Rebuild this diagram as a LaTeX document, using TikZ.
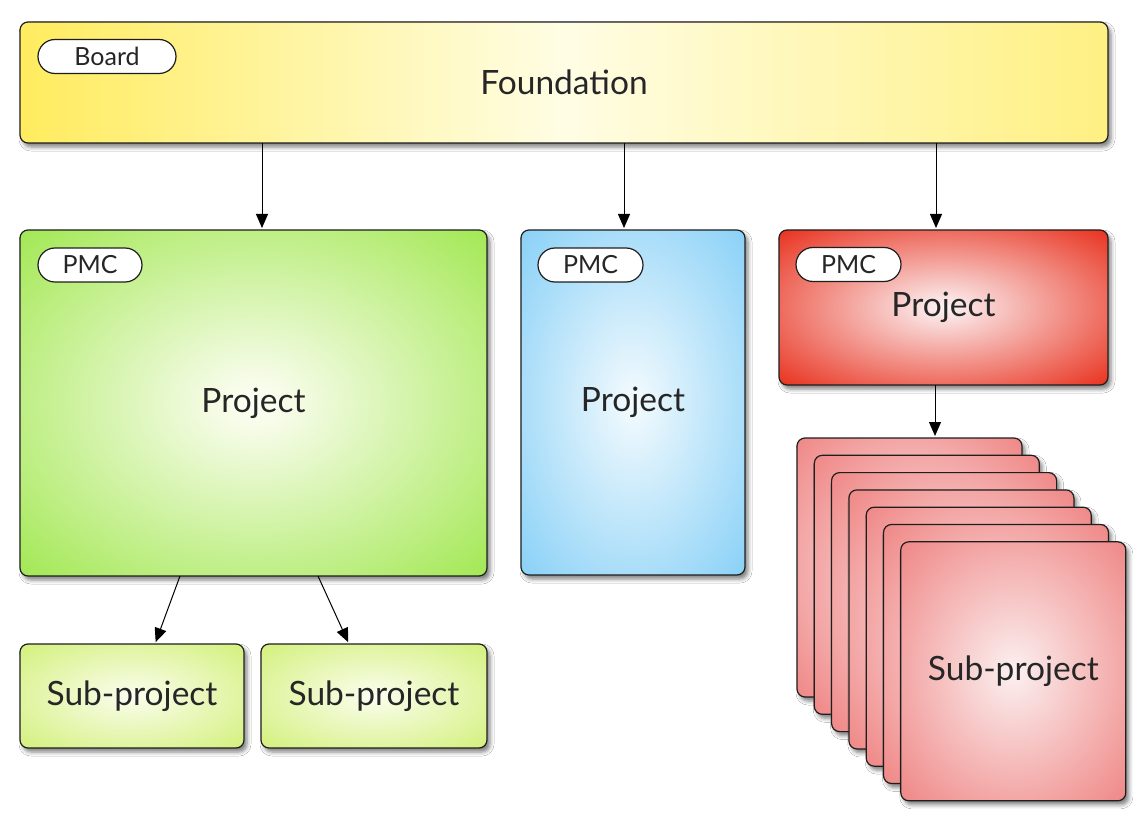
\documentclass[tikz,border=0pt]{standalone}
\usepackage{fontspec}
\setmainfont{Lato}
\usetikzlibrary{shapes.misc,shadows.blur,arrows.meta}
\definecolor{yel}{RGB}{255,236,95}
\definecolor{yelr}{RGB}{255,240,130}
\definecolor{yelmid}{RGB}{255,253,228}
\definecolor{linec}{RGB}{30,30,30}
\pgfdeclareradialshading{greenrad}{\pgfpointorigin}{color(0bp)=(rgb,255:red,252;green,255;blue,245); color(4bp)=(rgb,255:red,245;green,252;blue,230); color(46bp)=(rgb,255:red,135;green,225;blue,35); color(72bp)=(rgb,255:red,135;green,225;blue,35)}
\pgfdeclareradialshading{bluerad}{\pgfpointorigin}{color(0bp)=(rgb,255:red,245;green,252;blue,255); color(4bp)=(rgb,255:red,232;green,246;blue,253); color(46bp)=(rgb,255:red,105;green,196;blue,245); color(72bp)=(rgb,255:red,105;green,196;blue,245)}
\pgfdeclareradialshading{redrad}{\pgfpointorigin}{color(0bp)=(rgb,255:red,253;green,242;blue,242); color(3bp)=(rgb,255:red,250;green,228;blue,228); color(36bp)=(rgb,255:red,232;green,46;blue,26); color(72bp)=(rgb,255:red,232;green,46;blue,26)}
\pgfdeclareradialshading{pinkrad}{\pgfpointorigin}{color(0bp)=(rgb,255:red,253;green,240;blue,240); color(4bp)=(rgb,255:red,250;green,228;blue,228); color(44bp)=(rgb,255:red,236;green,110;blue,108); color(72bp)=(rgb,255:red,236;green,110;blue,108)}
\pgfdeclareradialshading{ltgreenrad}{\pgfpointorigin}{color(0bp)=(rgb,255:red,252;green,254;blue,242); color(4bp)=(rgb,255:red,246;green,252;blue,225); color(46bp)=(rgb,255:red,200;green,236;blue,90); color(72bp)=(rgb,255:red,200;green,236;blue,90)}
\begin{document}
\begin{tikzpicture}[x=1pt,y=-1pt,
  box/.style={draw=linec, line width=1.2pt, rounded corners=8pt, inner sep=0pt, outer sep=0pt,
    blur shadow={shadow xshift=3pt, shadow yshift=-4pt, shadow blur radius=4pt, shadow opacity=50}},
  pill/.style={rounded rectangle, draw=linec, line width=1.2pt, fill=white, inner sep=0pt, outer sep=0pt,
    minimum height=34pt, anchor=west, font=\fontsize{25}{28}\selectfont, text=black!85},
  arr/.style={draw=black, line width=1pt, shorten >=2pt, -{Triangle[length=14pt,width=12pt]}},
  bigtxt/.style={font=\fontsize{33.5}{38}\selectfont, text=black!85}]

\useasboundingbox[fill=white] (0,0) rectangle (1144,821);

% Foundation
\node[box, minimum width=1088pt, minimum height=121pt, left color=yel, right color=yelr, middle color=yelmid, bigtxt]
  (found) at (564,82.5) {Foundation};
\node[pill, minimum width=138pt] (board) at ([xshift=18pt,yshift=-34.5pt]found.north west) {Board};

% Projects
\node[box, shading=greenrad, minimum width=467pt, minimum height=346pt, bigtxt] (gproj) at (253.5,403) {Project};
\node[pill, minimum width=104pt] (gpmc) at ([xshift=18pt,yshift=-35pt]gproj.north west) {PMC};

\node[box, shading=bluerad, minimum width=224pt, minimum height=345pt, bigtxt] (bproj) at (633,402.5) {Project};
\node[pill, minimum width=105pt] (bpmc) at ([xshift=17pt,yshift=-35pt]bproj.north west) {PMC};

\node[box, shading=redrad, minimum width=329pt, minimum height=155pt, bigtxt] (rproj) at (943.5,307.5) {Project};
\node[pill, minimum width=105pt] (rpmc) at ([xshift=17pt,yshift=-34.5pt]rproj.north west) {PMC};

% Green sub-projects
\node[box, shading=ltgreenrad, minimum width=224pt, minimum height=104pt, bigtxt] (gsub1) at (132,696) {Sub-project};
\node[box, shading=ltgreenrad, minimum width=226pt, minimum height=104pt, bigtxt] (gsub2) at (374,696) {Sub-project};

% Stack of red sub-projects
\foreach \i in {0,...,5}{
  \node[box, shading=pinkrad, minimum width=225pt, minimum height=259pt] (card\i) at (909.5+17.3*\i, 567.5+17.3*\i) {};
}
\node[box, shading=pinkrad, minimum width=225pt, minimum height=259pt, bigtxt] (card6) at (909.5+17.3*6, 567.5+17.3*6) {Sub-project};

% Arrows
\draw[arr] ([xshift=8.5pt]gproj.north |- found.south) -- ([xshift=8.5pt]gproj.north);
\draw[arr] ([xshift=-9pt]bproj.north |- found.south) -- ([xshift=-9pt]bproj.north);
\draw[arr] ([xshift=-7.5pt]rproj.north |- found.south) -- ([xshift=-7.5pt]rproj.north);
\draw[arr] ([xshift=-8.5pt]rproj.south) -- ([xshift=-8.5pt]rproj.south |- card0.north);
\draw[arr] ([xshift=-73.5pt]gproj.south) -- ([xshift=23pt]gsub1.north);
\draw[arr] ([xshift=64.5pt]gproj.south) -- ([xshift=-25pt]gsub2.north);
\end{tikzpicture}
\end{document}
